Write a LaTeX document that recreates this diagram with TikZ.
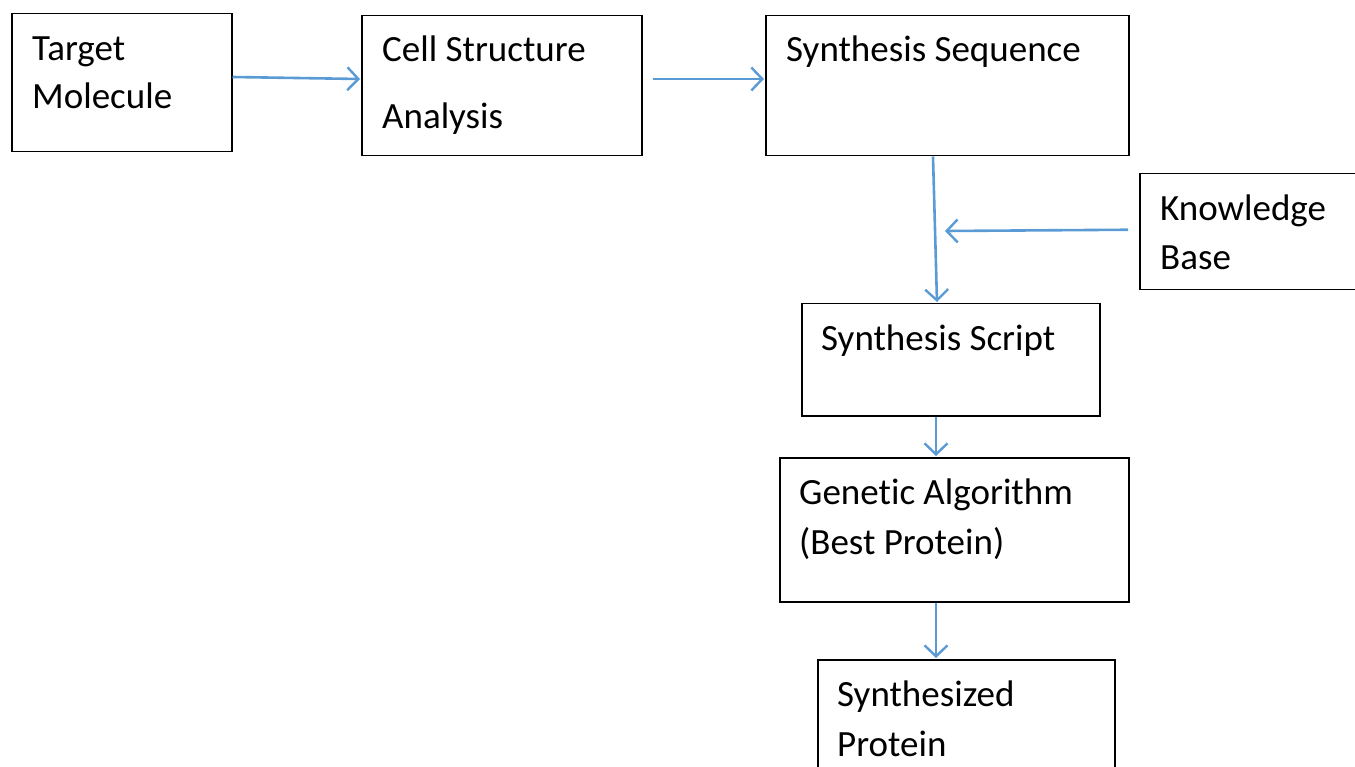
\documentclass[tikz,border=0pt]{standalone}
\usepackage{fontspec}
\setmainfont[Ligatures={NoCommon}]{Carlito}
\usetikzlibrary{arrows.meta,calc}
\definecolor{arrowblue}{HTML}{5B9BD5}
\tikzset{
  box/.style={draw=black, line width=1.5pt, fill=none, anchor=north west, inner sep=0pt},
  lbl/.style={anchor=base west, inner sep=0pt, font=\fontsize{37pt}{47pt}\selectfont},
  flow/.style={draw=arrowblue, line width=2.6pt, -{Straight Barb[length=11pt,width=23pt,line width=2.4pt]}}
}
\begin{document}
\begin{tikzpicture}[x=1pt,y=-1pt]
\useasboundingbox (0,0) rectangle (1355,767);
\clip (0,0) rectangle (1355,767);
% boxes
\node[box, minimum width=220pt, minimum height=138pt] (tm) at (11,13) {};
\node[box, minimum width=280pt, minimum height=140pt] (csa) at (361,15) {};
\node[box, minimum width=363pt, minimum height=140pt] (sseq) at (765,15) {};
\node[box, minimum width=240pt, minimum height=116pt] (kb) at (1139,173) {};
\node[box, minimum width=298pt, minimum height=112pt] (ss) at (801,303) {};
\node[box, minimum width=349pt, minimum height=144pt] (ga) at (779,457) {};
\node[box, minimum width=297pt, minimum height=130pt] (sp) at (817,659) {};
% labels
\node[lbl] (tm1) at (32,61) {Target};
\node[lbl] (tm2) at (32,109) {Molecule};
\node[lbl] (csa1) at (382,62) {Cell Structure};
\node[lbl] (csa2) at (382,129) {Analysis};
\node[lbl] (sseq1) at (786,62) {Synthesis Sequence};
\node[lbl] (kb1) at (1160,221) {Knowledge};
\node[lbl] (kb2) at (1160,270) {Base};
\node[lbl] (ss1) at (821,350) {Synthesis Script};
\node[lbl] (ga1) at (799,504) {Genetic Algorithm};
\node[lbl] (ga2) at (799,554) {(Best Protein)};
\node[lbl] (sp1) at (837,706) {Synthesized};
\node[lbl] (sp2) at (837,756) {Protein};
% connectors
\coordinate (kbin) at (945,231);
\draw[flow] ($(tm.north east)+(0,64)$) -- ($(csa.north west)+(-1,64)$);
\draw[flow] ($(csa.north east)+(10,64)$) -- ($(sseq.north west)+(-1,64)$);
\draw[flow] ($(sseq.south west)+(168,0)$) -- ($(ss.north west)+(136,-1)$);
\draw[flow] ($(kb.west)+(-11,-2)$) -- (kbin);
\draw[flow] ($(ss.south west)+(135,0)$) -- ($(ga.north west)+(157,-1)$);
\draw[flow] ($(ga.south west)+(157,0)$) -- ($(sp.north west)+(119,-1)$);
\end{tikzpicture}
\end{document}
